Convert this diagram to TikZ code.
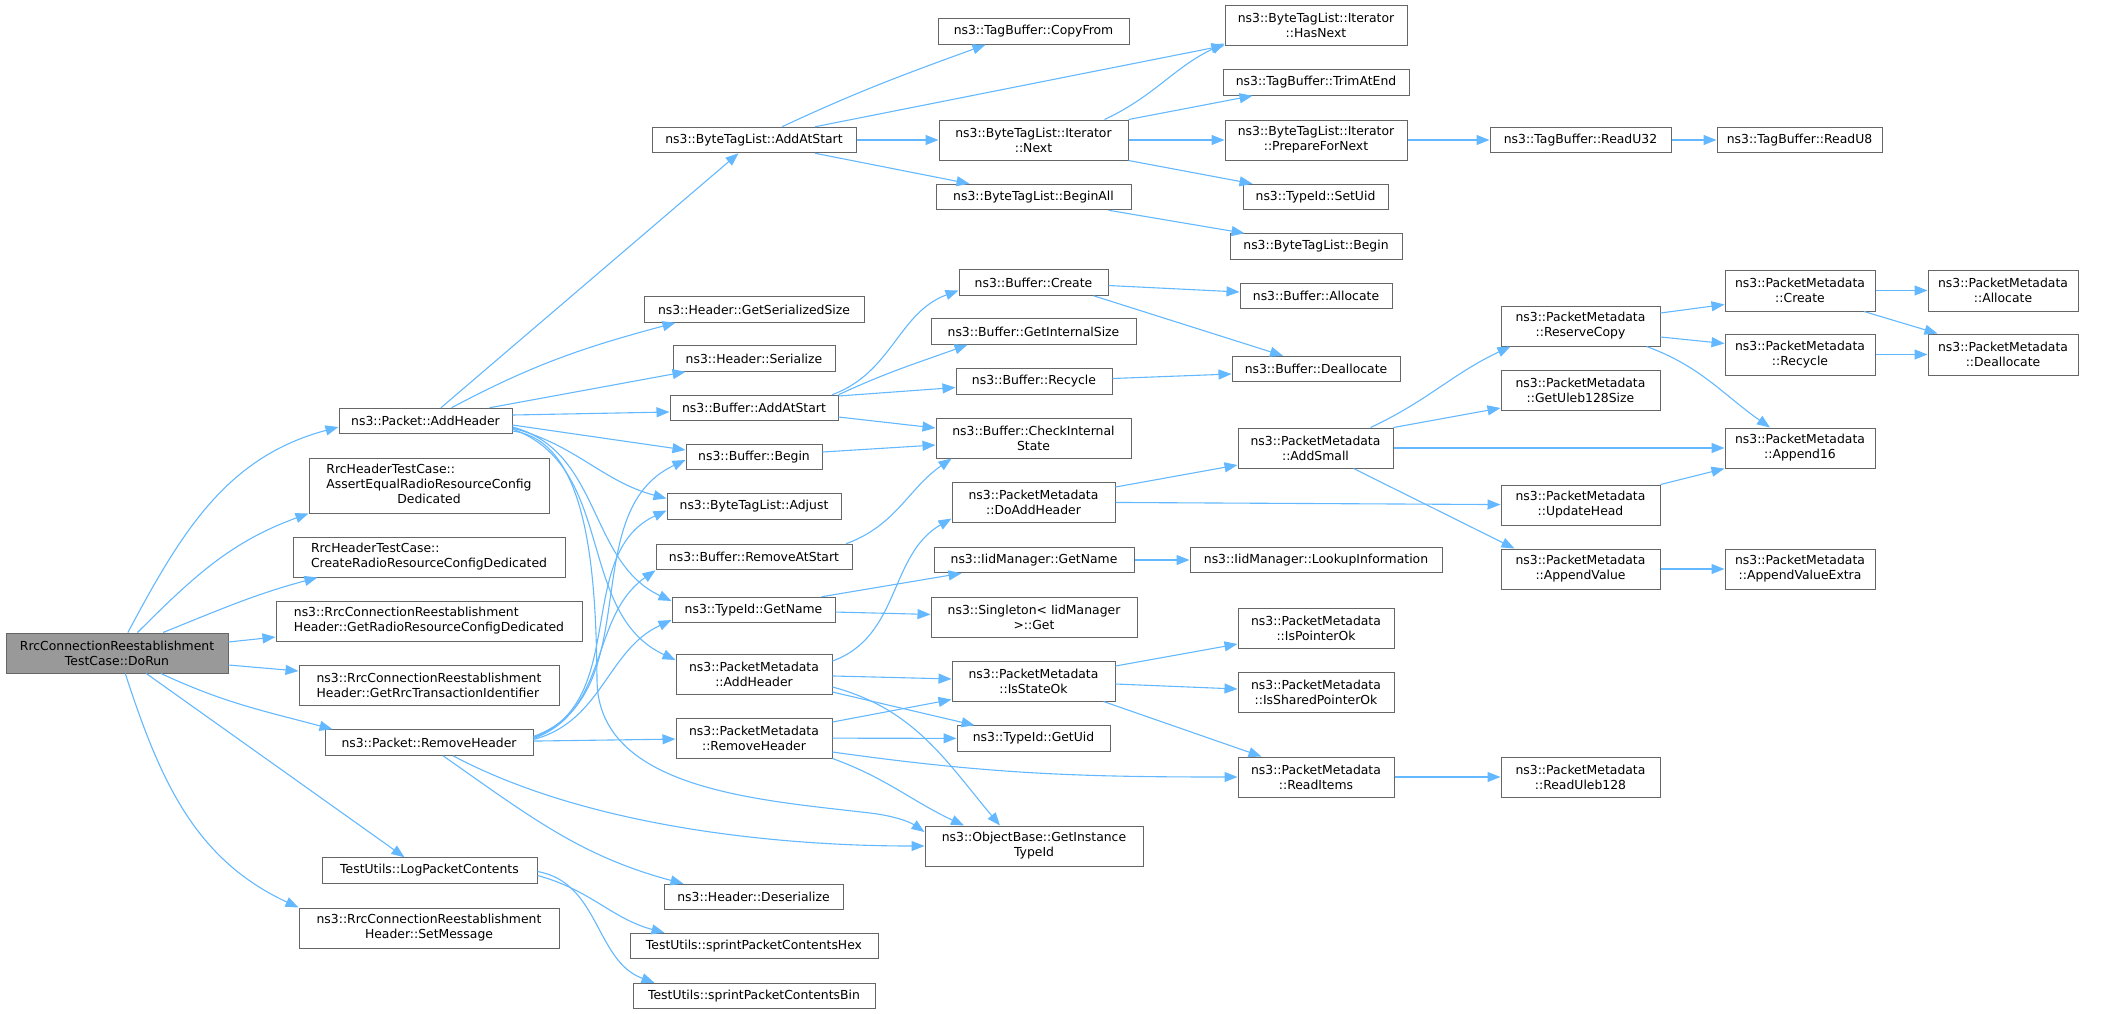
\documentclass[tikz,border=0pt]{standalone}
\usepackage{fontspec}
\setmainfont{DejaVu Sans}
\usepackage{tikz}
\usetikzlibrary{arrows.meta}
\definecolor{edgeblue}{HTML}{63B8FF}
\definecolor{boxgrey}{HTML}{666666}
\definecolor{rootgrey}{HTML}{999999}
\tikzstyle{fn}=[draw=boxgrey,fill=white,line width=1pt,inner xsep=4pt,inner ysep=2pt,align=center,text=black,font=\fontsize{12.4}{15}\selectfont]
\tikzstyle{root}=[fn,fill=rootgrey]
\tikzstyle{oneline}=[minimum height=25.5pt]
\tikzstyle{twoline}=[minimum height=40pt]
\tikzstyle{call}=[draw=edgeblue,line width=1.1pt,-{Triangle[length=13pt,width=10pt]}]

\begin{document}
\begin{tikzpicture}[x=1pt,y=1pt]
\useasboundingbox (0,0) rectangle (2109,-1013);
\node[root,twoline,minimum width=222pt] (dorun) at (117,-653) {RrcConnectionReestablishment\\TestCase::DoRun};
\node[fn,oneline,minimum width=173pt] (pktadd) at (425.5,-421) {ns3::Packet::AddHeader};
\node[fn,minimum height=55pt,minimum width=240pt] (assert) at (429,-485.5) {\begin{tabular}{@{}l@{}}RrcHeaderTestCase::\\AssertEqualRadioResourceConfig\\\multicolumn{1}{@{}c@{}}{Dedicated}\end{tabular}};
\node[fn,twoline,align=left,minimum width=272pt] (create) at (429,-557) {RrcHeaderTestCase::\\CreateRadioResourceConfigDedicated};
\node[fn,twoline,align=left,minimum width=306pt] (getradio) at (429,-621) {ns3::RrcConnectionReestablishment\\Header::GetRadioResourceConfigDedicated};
\node[fn,twoline,align=left,minimum width=260pt] (getrrc) at (429,-685) {ns3::RrcConnectionReestablishment\\Header::GetRrcTransactionIdentifier};
\node[fn,oneline,minimum width=208pt] (pktrem) at (429,-742.5) {ns3::Packet::RemoveHeader};
\node[fn,oneline,minimum width=215pt] (logpkt) at (429.5,-870.5) {TestUtils::LogPacketContents};
\node[fn,twoline,minimum width=260pt] (setmsg) at (429,-928) {ns3::RrcConnectionReestablishment\\Header::SetMessage};

\node[fn,oneline,minimum width=204pt] (btladd) at (754,-140) {ns3::ByteTagList::AddAtStart};
\node[fn,oneline,minimum width=220pt] (hdrsize) at (754,-309.5) {ns3::Header::GetSerializedSize};
\node[fn,oneline,minimum width=162pt] (hdrser) at (754,-358.5) {ns3::Header::Serialize};
\node[fn,oneline,minimum width=168pt] (bufadd) at (754,-408) {ns3::Buffer::AddAtStart};
\node[fn,oneline,minimum width=136pt] (bufbegin) at (754,-457) {ns3::Buffer::Begin};
\node[fn,oneline,minimum width=174pt] (btladj) at (754,-506.5) {ns3::ByteTagList::Adjust};
\node[fn,oneline,minimum width=196pt] (bufrem) at (754,-557) {ns3::Buffer::RemoveAtStart};
\node[fn,oneline,minimum width=163pt] (tidname) at (753.5,-610) {ns3::TypeId::GetName};
\node[fn,twoline,minimum width=156pt] (pmadd) at (754,-674) {ns3::PacketMetadata\\::AddHeader};
\node[fn,twoline,minimum width=156pt] (pmrem) at (754,-738) {ns3::PacketMetadata\\::RemoveHeader};
\node[fn,oneline,minimum width=179pt] (hdrdes) at (753.5,-897) {ns3::Header::Deserialize};
\node[fn,oneline,minimum width=248pt] (hex) at (754,-946) {TestUtils::sprintPacketContentsHex};
\node[fn,oneline,minimum width=242pt] (bin) at (754,-996) {TestUtils::sprintPacketContentsBin};

\node[fn,oneline,minimum width=191pt] (copyfrom) at (1033.5,-31.5) {ns3::TagBuffer::CopyFrom};
\node[fn,twoline,minimum width=189pt] (itnext) at (1033.5,-140) {ns3::ByteTagList::Iterator\\::Next};
\node[fn,oneline,minimum width=195pt] (beginall) at (1033.5,-197) {ns3::ByteTagList::BeginAll};
\node[fn,oneline,minimum width=149pt] (bufcreate) at (1033.5,-282.5) {ns3::Buffer::Create};
\node[fn,oneline,minimum width=205pt] (bufisize) at (1033.5,-331.5) {ns3::Buffer::GetInternalSize};
\node[fn,oneline,minimum width=156pt] (bufrec) at (1034,-381.5) {ns3::Buffer::Recycle};
\node[fn,twoline,minimum width=195pt] (bufcheck) at (1033.5,-438) {ns3::Buffer::CheckInternal\\State};
\node[fn,twoline,minimum width=163pt] (doadd) at (1033.5,-502) {ns3::PacketMetadata\\::DoAddHeader};
\node[fn,oneline,minimum width=200pt] (iidname) at (1034,-560) {ns3::IidManager::GetName};
\node[fn,twoline,minimum width=206pt] (singleton) at (1034,-617) {ns3::Singleton< IidManager\\>::Get};
\node[fn,twoline,minimum width=163pt] (isstate) at (1033.5,-681) {ns3::PacketMetadata\\::IsStateOk};
\node[fn,oneline,minimum width=153pt] (getuid) at (1033.5,-738.5) {ns3::TypeId::GetUid};
\node[fn,twoline,minimum width=218pt] (objbase) at (1034,-846) {ns3::ObjectBase::GetInstance\\TypeId};

\node[fn,twoline,minimum width=182pt] (hasnext) at (1316,-25) {ns3::ByteTagList::Iterator\\::HasNext};
\node[fn,oneline,minimum width=186pt] (trim) at (1316,-82.5) {ns3::TagBuffer::TrimAtEnd};
\node[fn,twoline,minimum width=182pt] (prep) at (1316,-140) {ns3::ByteTagList::Iterator\\::PrepareForNext};
\node[fn,oneline,minimum width=145pt] (setuid) at (1315.5,-197) {ns3::TypeId::SetUid};
\node[fn,oneline,minimum width=172pt] (btlbegin) at (1316,-246.5) {ns3::ByteTagList::Begin};
\node[fn,oneline,minimum width=152pt] (bufalloc) at (1316,-296) {ns3::Buffer::Allocate};
\node[fn,oneline,minimum width=168pt] (bufdealloc) at (1316,-369) {ns3::Buffer::Deallocate};
\node[fn,twoline,minimum width=155pt] (addsmall) at (1315.5,-448) {ns3::PacketMetadata\\::AddSmall};
\node[fn,oneline,minimum width=252pt] (lookup) at (1316,-560) {ns3::IidManager::LookupInformation};
\node[fn,twoline,minimum width=156pt] (isptr) at (1316,-628) {ns3::PacketMetadata\\::IsPointerOk};
\node[fn,twoline,minimum width=156pt] (isshared) at (1316,-692) {ns3::PacketMetadata\\::IsSharedPointerOk};
\node[fn,twoline,minimum width=156pt] (readitems) at (1316,-777) {ns3::PacketMetadata\\::ReadItems};

\node[fn,oneline,minimum width=181pt] (readu32) at (1580.5,-140) {ns3::TagBuffer::ReadU32};
\node[fn,twoline,minimum width=159pt] (reserve) at (1580.5,-326) {ns3::PacketMetadata\\::ReserveCopy};
\node[fn,twoline,minimum width=159pt] (uleb) at (1580.5,-390) {ns3::PacketMetadata\\::GetUleb128Size};
\node[fn,twoline,minimum width=159pt] (update) at (1580.5,-505) {ns3::PacketMetadata\\::UpdateHead};
\node[fn,twoline,minimum width=159pt] (appval) at (1580.5,-569) {ns3::PacketMetadata\\::AppendValue};
\node[fn,twoline,minimum width=159pt] (readuleb) at (1580.5,-777) {ns3::PacketMetadata\\::ReadUleb128};

\node[fn,oneline,minimum width=165pt] (readu8) at (1799.5,-140) {ns3::TagBuffer::ReadU8};
\node[fn,twoline,minimum width=150pt,minimum height=41pt] (pmcreate) at (1800,-290.5) {ns3::PacketMetadata\\::Create};
\node[fn,twoline,minimum width=150pt,minimum height=41pt] (pmrecycle) at (1800,-354.5) {ns3::PacketMetadata\\::Recycle};
\node[fn,twoline,minimum width=150pt] (append16) at (1800,-448) {ns3::PacketMetadata\\::Append16};
\node[fn,twoline,minimum width=150pt] (appextra) at (1800,-569) {ns3::PacketMetadata\\::AppendValueExtra};

\node[fn,twoline,minimum width=150pt,minimum height=41pt] (pmalloc) at (2003,-290.5) {ns3::PacketMetadata\\::Allocate};
\node[fn,twoline,minimum width=150pt,minimum height=41pt] (pmdealloc) at (2003,-354.5) {ns3::PacketMetadata\\::Deallocate};

\draw[call] (dorun.62) to[out=62,in=195] ([yshift=-6]pktadd.west);
\draw[call] (dorun.45) to[out=45,in=200] (assert.south west);
\draw[call] (dorun.24) to[out=22,in=195] ([xshift=25]create.south west);
\draw[call] ([yshift=11]dorun.east) -- ([yshift=-16]getradio.west);
\draw[call] ([yshift=-12]dorun.east) -- ([yshift=14]getrrc.west);
\draw[call] (dorun.-25) to[out=-25,in=165] ([xshift=8]pktrem.north west);
\draw[call] (dorun.-35) -- ([xshift=-25]logpkt.north);
\draw[call] (dorun.-68) to[out=-72,in=155] (setmsg.north west);

\draw[call] (pktadd) -- (btladd);
\draw[call] ([xshift=26]pktadd.north) to[out=28,in=195] ([xshift=32]hdrsize.south west);
\draw[call] ([xshift=64]pktadd.north) -- ([xshift=13]hdrser.south west);
\draw[call] ([yshift=6]pktadd.east) -- ([yshift=-4]bufadd.west);
\draw[call] ([yshift=-4]pktadd.east) -- ([yshift=7]bufbegin.west);
\draw[call] ([yshift=-7]pktadd.east) to[out=-15,in=165] ([yshift=8]btladj.west);
\draw[call] ([yshift=-6]pktadd.east) to[out=-15,in=155] ([yshift=9]tidname.west);
\draw[call] ([yshift=-8]pktadd.east) to[out=-20,in=155] ([yshift=14]pmadd.west);
\draw[call] ([yshift=-10]pktadd.east) .. controls (585,-440) and (596,-560) .. (597,-680)
  .. controls (598,-790) and (760,-800) .. (870,-813)
  .. controls (895,-816) and (910,-822) .. ([yshift=14]objbase.west);

\draw[call] ([yshift=6]pktrem.east) to[out=20,in=205] ([yshift=-3]bufbegin.west);
\draw[call] ([yshift=5]pktrem.east) to[out=20,in=205] ([yshift=-4]btladj.west);
\draw[call] ([yshift=4]pktrem.east) to[out=20,in=215] (bufrem.south west);
\draw[call] ([yshift=3]pktrem.east) to[out=15,in=205] ([yshift=-10]tidname.west);
\draw[call] (pktrem) -- (pmrem);
\draw[call] ([xshift=14]pktrem.south) to[out=-35,in=165] ([xshift=-70]hdrdes.north);
\draw[call] ([xshift=24]pktrem.south) to[out=-28,in=180,looseness=0.8] (objbase.west);

\draw[call] ([yshift=-5]logpkt.east) to[out=-15,in=165] ([xshift=35]hex.north west);
\draw[call] ([yshift=-1]logpkt.east) to[out=-10,in=160] ([xshift=22]bin.north west);

\draw[call] ([xshift=28]btladd.north) to[out=25,in=200] ([xshift=-48]copyfrom.south);
\draw[call] ([xshift=61]btladd.north) -- (hasnext.south west);
\draw[call] (btladd) -- (itnext);
\draw[call] ([xshift=61]btladd.south) -- ([xshift=34]beginall.north west);

\draw[call] ([xshift=71]itnext.north) to[out=25,in=205] ([yshift=2]hasnext.south west);
\draw[call] (itnext.north east) -- ([xshift=30]trim.south west);
\draw[call] (itnext) -- (prep);
\draw[call] (itnext.south east) -- ([xshift=10]setuid.north west);
\draw[call] (prep) -- (readu32);
\draw[call] (readu32) -- (readu8);
\draw[call] ([xshift=75]beginall.south) -- ([xshift=15]btlbegin.north west);

\draw[call] ([xshift=78]bufadd.north) to[out=20,in=200] ([yshift=-8]bufcreate.west);
\draw[call] (bufadd.north east) to[out=25,in=200] ([xshift=37]bufisize.south west);
\draw[call] ([yshift=12]bufadd.east) -- ([yshift=-6]bufrec.west);
\draw[call] ([yshift=-9]bufadd.east) -- ([yshift=10]bufcheck.west);
\draw[call] ([yshift=5]bufbegin.east) -- ([yshift=-7]bufcheck.west);
\draw[call] ([xshift=92]bufrem.north) to[out=20,in=215] ([xshift=16]bufcheck.south west);
\draw[call] ([yshift=-3]bufcreate.east) -- ([yshift=4]bufalloc.west);
\draw[call] ([xshift=60]bufcreate.south) -- ([xshift=-33]bufdealloc.north);
\draw[call] ([yshift=3]bufrec.east) -- ([yshift=-5]bufdealloc.west);

\draw[call] ([xshift=68]tidname.north) -- ([xshift=28]iidname.south west);
\draw[call] (tidname) -- (singleton);
\draw[call] (iidname) -- (lookup);

\draw[call] ([yshift=13]pmadd.east) to[out=20,in=210] ([yshift=4]doadd.south west);
\draw[call] (pmadd) -- (isstate);
\draw[call] ([yshift=-18]pmadd.east) -- ([xshift=18]getuid.north west);
\draw[call] ([yshift=-13]pmadd.east) to[out=-15,in=130] ([xshift=-34]objbase.north);

\draw[call] ([yshift=16]pmrem.east) -- ([yshift=2]isstate.south west);
\draw[call] (pmrem) -- (getuid);
\draw[call] ([yshift=-14]pmrem.east) to[out=-8,in=180] (readitems.west);
\draw[call] (pmrem.south east) to[out=-20,in=155] ([xshift=-70]objbase.north);

\draw[call] ([yshift=15]doadd.east) -- ([yshift=-17]addsmall.west);
\draw[call] (doadd) -- (update);

\draw[call] ([xshift=55]addsmall.north) to[out=25,in=205] ([xshift=10]reserve.south west);
\draw[call] (addsmall.north east) -- ([yshift=-18]uleb.west);
\draw[call] (addsmall) -- (append16);
\draw[call] ([xshift=38]addsmall.south) -- ([xshift=14]appval.north west);

\draw[call] ([yshift=13]reserve.east) -- ([yshift=-14]pmcreate.west);
\draw[call] ([yshift=-11]reserve.east) -- ([yshift=11]pmrecycle.west);
\draw[call] ([xshift=66]reserve.south) to[out=-20,in=145] ([xshift=-30]append16.north);
\draw[call] (pmcreate) -- (pmalloc);
\draw[call] ([xshift=64]pmcreate.south) -- ([xshift=10]pmdealloc.north west);
\draw[call] (pmrecycle) -- (pmdealloc);
\draw[call] (update.north east) -- (append16.south west);
\draw[call] (appval) -- (appextra);

\draw[call] ([yshift=15]isstate.east) -- ([yshift=-16]isptr.west);
\draw[call] ([yshift=-3]isstate.east) -- ([yshift=3]isshared.west);
\draw[call] ([xshift=70]isstate.south) -- ([xshift=24]readitems.north west);
\draw[call] (readitems) -- (readuleb);
\end{tikzpicture}
\end{document}
